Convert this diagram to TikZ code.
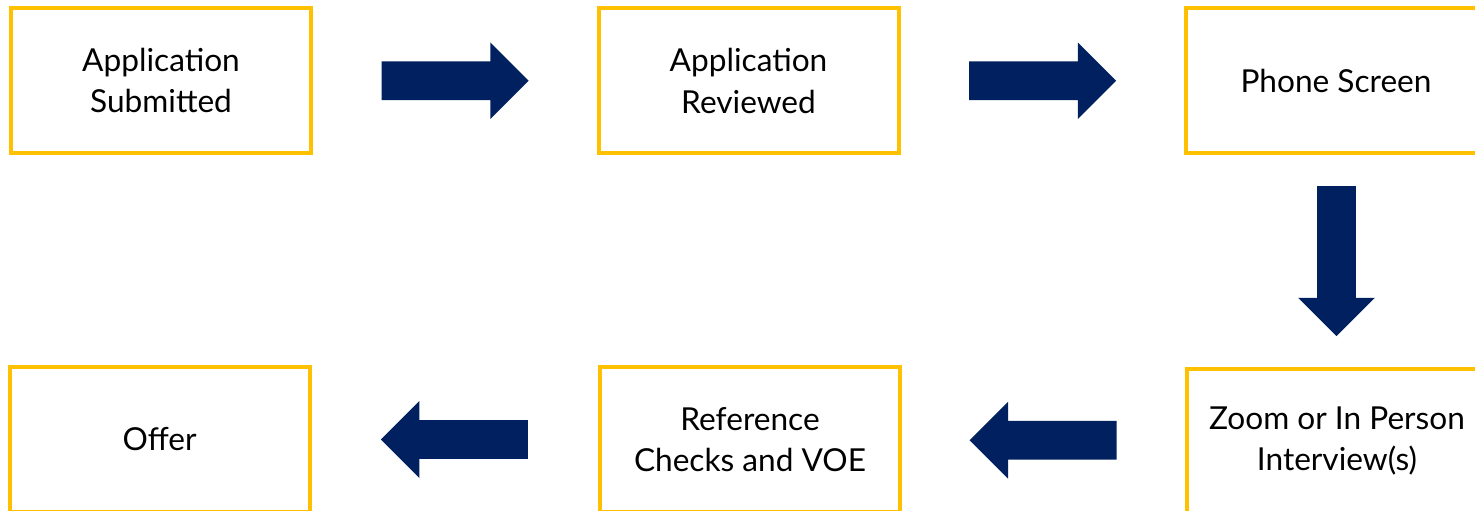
\documentclass[tikz,border=0pt]{standalone}
\usepackage{fontspec}
\setmainfont{Lato}
\usetikzlibrary{shapes.arrows,calc}
\definecolor{boxgold}{HTML}{FFC000}
\definecolor{arrownavy}{HTML}{002060}

\begin{document}
\begin{tikzpicture}[every node/.append style={font=\fontsize{18}{23.5}\selectfont, align=center},
        stage/.style={draw=boxgold, line width=0.08cm, minimum width=6cm, minimum height=2.9cm, inner sep=0pt},
        blockarrow/.style={single arrow, fill=arrownavy, draw=none, inner sep=0.38cm, minimum height=2.94cm, single arrow head extend=0.38cm, anchor=tail}]
        \useasboundingbox (0,0) rectangle (29.5,-10.22);

        \node [stage] (AS) at (3.22,-1.61) {Application\\Submitted};
        \node [stage] (AR) at (14.97,-1.62) {Application\\Reviewed};
        \node [stage] (PS) at (26.72,-1.61) {Phone Screen};
        \node [stage] (ZI) at (26.74,-8.82) {Zoom or In Person\\Interview(s)};
        \node [stage] (RC) at (15.00,-8.79) {Reference\\Checks and VOE};
        \node [stage] (Of) at (3.19,-8.79) {Offer};

        \node [blockarrow] (A1) at ($(AS.east)!0.5!(AR.west)+(-1.47,0)$) {};
        \node [blockarrow] (A2) at ($(AR.east)!0.5!(PS.west)+(-1.47,0)$) {};
        \node [blockarrow, shape border rotate=270, minimum height=3cm] (A3) at ($(PS.south)!0.5!(ZI.north)+(0,1.5)$) {};
        \node [blockarrow, shape border rotate=180] (A4) at ($(ZI.west)!0.5!(RC.east)+(1.47,0)$) {};
        \node [blockarrow, shape border rotate=180] (A5) at ($(RC.west)!0.5!(Of.east)+(1.47,0)$) {};
\end{tikzpicture}
\end{document}
